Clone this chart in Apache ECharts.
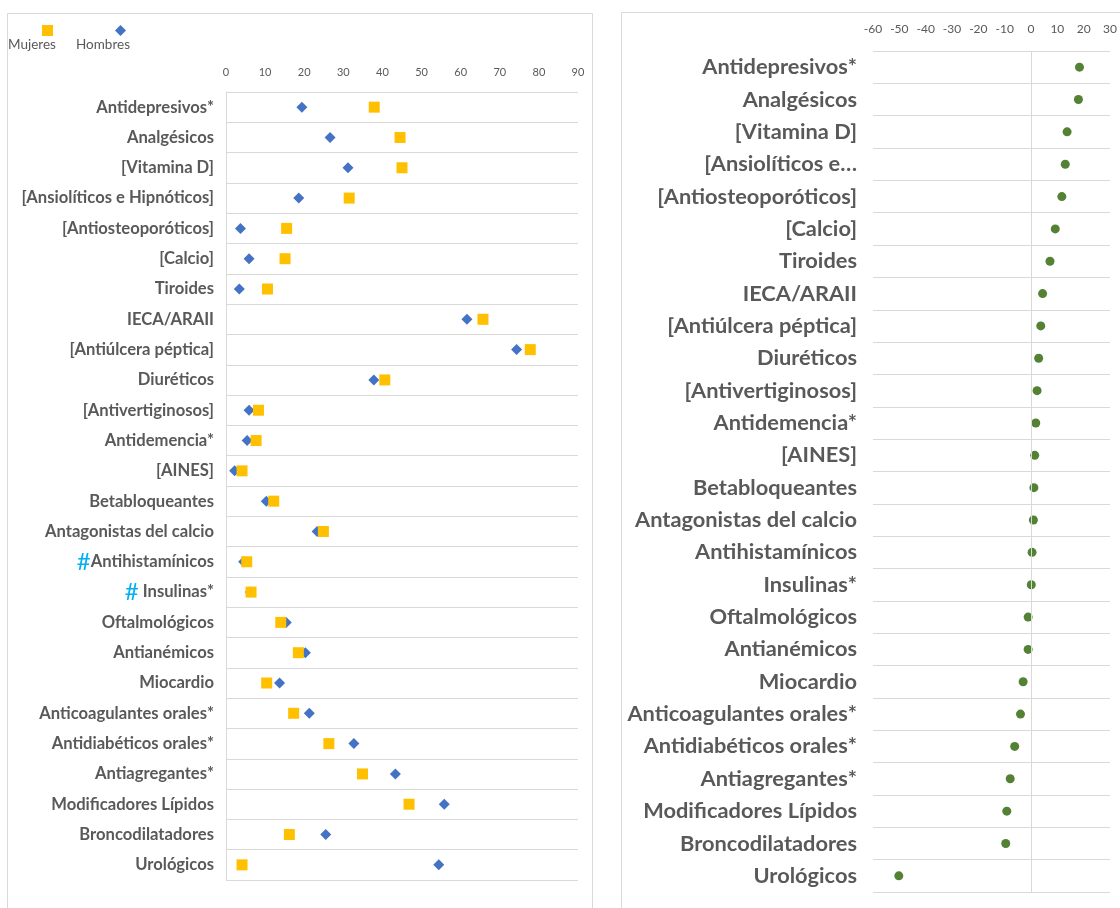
<!DOCTYPE html>
<html>
<head>
<meta charset="utf-8">
<script src="https://cdn.jsdelivr.net/npm/echarts@6/dist/echarts.min.js"></script>
<style>
html,body{margin:0;padding:0;background:#fff}
#main{width:1120px;height:908px}
</style>
</head>
<body>
<div id="main"></div>
<script>
// etiquetas de los dos paneles (mismo orden)
var etiquetasIzq = ['Antidepresivos*','Analgésicos','[Vitamina D]','[Ansiolíticos e Hipnóticos]','[Antiosteoporóticos]',
	'[Calcio]','Tiroides','IECA/ARAII','[Antiúlcera péptica]','Diuréticos','[Antivertiginosos]','Antidemencia*',
	'[AINES]','Betabloqueantes','Antagonistas del calcio','{h|#}Antihistamínicos','{h|#} Insulinas*','Oftalmológicos',
	'Antianémicos','Miocardio','Anticoagulantes orales*','Antidiabéticos orales*','Antiagregantes*',
	'Modificadores Lípidos','Broncodilatadores','Urológicos'];
var etiquetasDer = ['Antidepresivos*','Analgésicos','[Vitamina D]','[Ansiolíticos e…','[Antiosteoporóticos]',
	'[Calcio]','Tiroides','IECA/ARAII','[Antiúlcera péptica]','Diuréticos','[Antivertiginosos]','Antidemencia*',
	'[AINES]','Betabloqueantes','Antagonistas del calcio','Antihistamínicos','Insulinas*','Oftalmológicos',
	'Antianémicos','Miocardio','Anticoagulantes orales*','Antidiabéticos orales*','Antiagregantes*',
	'Modificadores Lípidos','Broncodilatadores','Urológicos'];

var mujeres = [37.9,44.5,45.0,31.5,15.5,15.1,10.6,65.7,77.8,40.6,8.3,7.7,4.1,12.2,24.9,5.3,6.4,14.0,18.5,10.4,17.3,26.3,34.9,46.8,16.2,4.1];
var hombres = [19.4,26.6,31.2,18.6,3.7,5.9,3.4,61.6,74.3,37.8,5.9,5.4,2.2,10.3,23.3,4.5,6.2,15.4,20.3,13.7,21.3,32.7,43.3,55.8,25.5,54.4];
var diferencia = [18.4,18.0,13.7,13.0,11.7,9.2,7.2,4.4,3.7,2.9,2.3,1.8,1.4,1.1,0.9,0.4,0.1,-1.1,-1.1,-3.0,-4.0,-6.2,-7.9,-9.2,-9.6,-50.2];

var ejeIzq = [0, 90, 10];
var ejeDer = [-60, 30, 10];

var gris = '#595959';
var linea = '#d9d9d9';

function pares(arr){
	return arr.map(function(v,i){ return [v,i]; });
}

var myChart = echarts.init(document.getElementById('main'));
var option = {
	animation:false,
	textStyle:{fontFamily:'Lato'},
	graphic:[
		{type:'rect',shape:{x:7.5,y:13.5,width:585,height:920},style:{fill:'none',stroke:linea,lineWidth:1},silent:true},
		{type:'rect',shape:{x:621.5,y:12.5,width:520,height:920},style:{fill:'none',stroke:linea,lineWidth:1},silent:true},
		// textos de la leyenda, debajo de cada icono
		{type:'text',left:8,top:38,style:{text:'Mujeres',fill:gris,font:'13.5px Lato'}},
		{type:'text',left:76,top:38,style:{text:'Hombres',fill:gris,font:'13.5px Lato'}}
	],
	legend:[{
		data:['Mujeres'],
		left:37,top:20,
		itemWidth:11,itemHeight:11,
		formatter:function(){ return ''; }
	},{
		data:['Hombres'],
		left:110,top:20,
		itemWidth:11,itemHeight:11,
		formatter:function(){ return ''; }
	}],
	grid:[
		{left:226,top:92,width:352,height:788},
		{left:873,top:51,width:239,height:841}
	],
	xAxis:[{
		gridIndex:0,type:'value',position:'top',
		min:ejeIzq[0],max:ejeIzq[1],interval:ejeIzq[2],
		axisLine:{show:false},axisTick:{show:false},splitLine:{show:false},
		axisLabel:{color:gris,fontSize:11,margin:14}
	},{
		gridIndex:1,type:'value',position:'top',
		min:ejeDer[0],max:ejeDer[1],interval:ejeDer[2],
		axisLine:{show:false},axisTick:{show:false},splitLine:{show:false},
		axisLabel:{color:gris,fontSize:12,margin:16}
	}],
	yAxis:[{
		gridIndex:0,type:'category',inverse:true,data:etiquetasIzq,
		axisLine:{show:true,lineStyle:{color:linea}},axisTick:{show:false},
		splitLine:{show:true,lineStyle:{color:linea}},
		axisLabel:{color:gris,fontSize:16.6,fontWeight:'bold',margin:12,
			rich:{h:{color:'#00b0f0',fontSize:24,fontWeight:'normal'}}}
	},{
		gridIndex:1,type:'category',inverse:true,data:etiquetasDer,
		axisLine:{show:false},axisTick:{show:false},
		splitLine:{show:true,lineStyle:{color:linea}},
		axisLabel:{color:gris,fontSize:21.8,fontWeight:'bold',margin:16}
	}],
	series:[{
		name:'Hombres',type:'scatter',xAxisIndex:0,yAxisIndex:0,
		symbol:'diamond',symbolSize:11,
		itemStyle:{color:'#4472c4',opacity:1},
		data:pares(hombres)
	},{
		name:'Mujeres',type:'scatter',xAxisIndex:0,yAxisIndex:0,
		symbol:'rect',symbolSize:11,
		itemStyle:{color:'#ffc000',opacity:1},
		data:pares(mujeres)
	},{
		name:'Diferencia',type:'scatter',xAxisIndex:1,yAxisIndex:1,
		symbol:'circle',symbolSize:9,
		itemStyle:{color:'#548235',opacity:1},
		data:pares(diferencia),
		markLine:{
			silent:true,symbol:['none','none'],label:{show:false},
			lineStyle:{color:linea,type:'solid',width:1},
			data:[{xAxis:0}]
		}
	}]
};
myChart.setOption(option);
</script>
</body>
</html>
